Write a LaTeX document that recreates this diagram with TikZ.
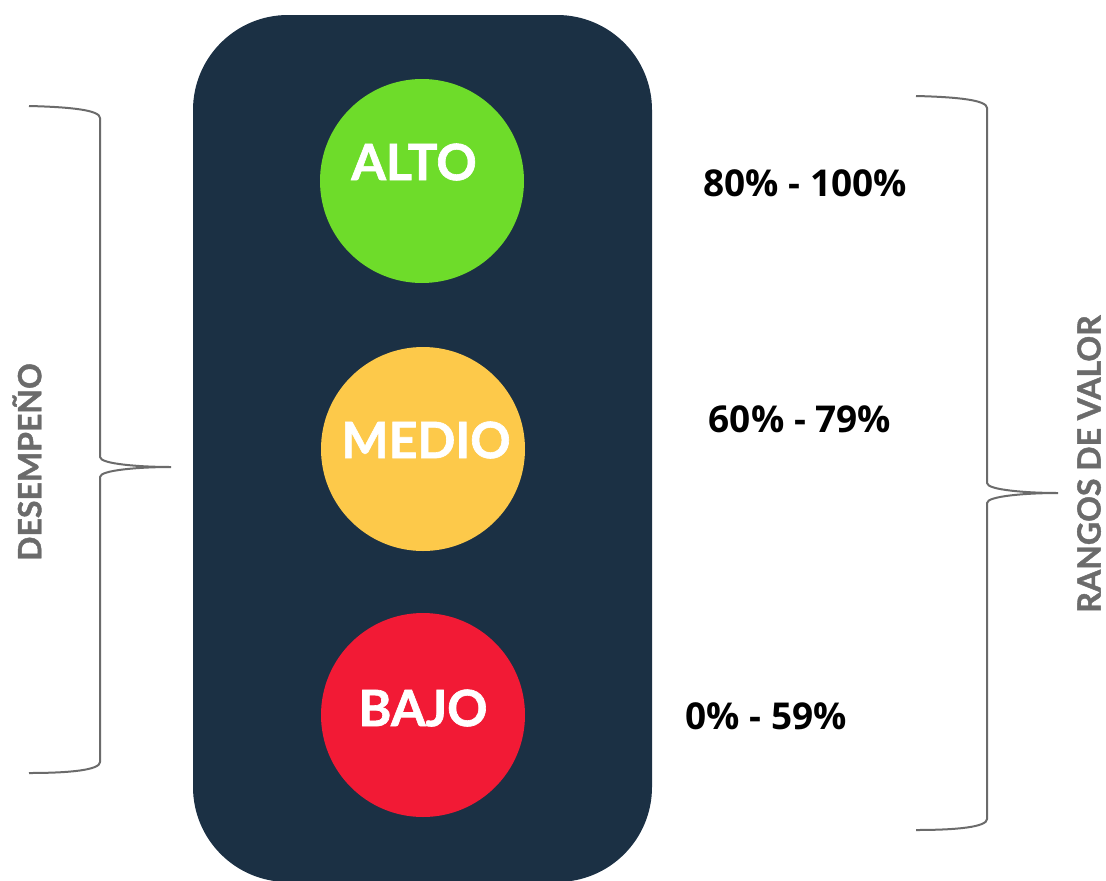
\documentclass[tikz,border=0pt]{standalone}
\usepackage{fontspec}
\setmainfont{Lato}
\newfontfamily\heavy{Lato}[BoldFeatures={FakeBold=1.3}]
\newfontfamily\pctfont{Open Sans}
\definecolor{body}{HTML}{1B3044}
\definecolor{lgreen}{HTML}{6EDC2A}
\definecolor{lyellow}{HTML}{FDC94A}
\definecolor{lred}{HTML}{F21A35}
\definecolor{bgray}{HTML}{6B6B6B}
\begin{document}
\begin{tikzpicture}[x=1pt,y=-1pt,
  lamp/.style={circle,minimum size=204pt,inner sep=0pt},
  lamptext/.style={text=white,font=\heavy\fontsize{50}{52}\selectfont\bfseries,inner sep=0pt},
  pct/.style={font=\pctfont\fontsize{37}{40}\selectfont\bfseries,inner sep=0pt},
  side/.style={text=bgray,font=\heavy\fontsize{32}{34}\selectfont\bfseries,rotate=90,inner sep=0pt},
  brace/.style={draw=bgray,line width=2pt}]
\useasboundingbox (0,0) rectangle (1106,881);
\fill[body,rounded corners=95pt] (193,15) rectangle (652,882);
\node[lamp,fill=lgreen] (green) at (422,181) {};
\node[lamp,fill=lyellow] (yellow) at (423,449) {};
\node[lamp,fill=lred] (red) at (423,715) {};
\node[lamptext] (alto) at (414,162) {ALTO};
\node[lamptext] (medio) at (426,440) {MEDIO};
\node[lamptext] (bajo) at (423,708) {BAJO};
\node[pct] (p1) at (805,183) {80\% - 100\%};
\node[pct] (p2) at (800,419) {60\% - 79\%};
\node[pct] (p3) at (766,716) {0\% - 59\%};
\node[side] (des) at (27,462) {DESEMPEÑO};
\node[side] (ran) at (1089,464) {RANGOS DE VALOR};
% left brace
\coordinate (lt) at (29,106);
\coordinate (ltip) at (171,467);
\coordinate (lb) at (29,773);
\draw[brace] (lt) .. controls (70,107) and (100,110) .. (100,118) -- (100,457)
  .. controls (100,464) and (140,467) .. (ltip)
  .. controls (140,467) and (100,470) .. (100,477) -- (100,762)
  .. controls (100,770) and (70,773) .. (lb);
% right brace
\coordinate (rt) at (916,96);
\coordinate (rtip) at (1058,493);
\coordinate (rb) at (916,830);
\draw[brace] (rt) .. controls (957,97) and (987,100) .. (987,108) -- (987,483)
  .. controls (987,490) and (1027,493) .. (rtip)
  .. controls (1027,493) and (987,496) .. (987,503) -- (987,819)
  .. controls (987,827) and (957,830) .. (rb);
\end{tikzpicture}
\end{document}
